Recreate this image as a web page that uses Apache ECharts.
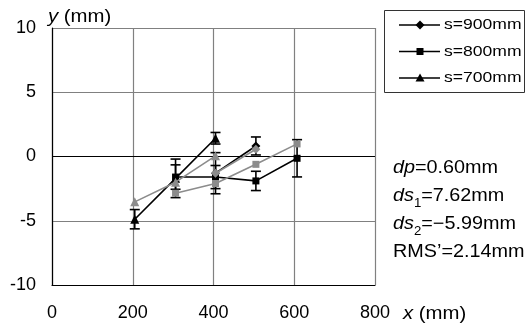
<!DOCTYPE html>
<html>
<head>
<meta charset="utf-8">
<script src="https://cdn.jsdelivr.net/npm/echarts@6/dist/echarts.min.js"></script>
<style>
  html, body { margin: 0; padding: 0; background: #fff; }
  #chart { width: 529px; height: 329px; }
</style>
</head>
<body>
<div id="chart"></div>
<script>
// Axis ticks
const xTicks = [0, 200, 400, 600, 800];
const yTicks = [-10, -5, 0, 5, 10];

// Legend entries (spacing s)
const legendNames = ['s=900mm', 's=800mm', 's=700mm'];

// Measured offsets (black, with error bars) per spacing s
const s900X = [405, 505];
const s900Y = [-1.3, 0.82];
const s900Err = [1.6, 0.7];

const s800X = [306, 405, 505, 607];
const s800Y = [-1.6, -1.6, -1.9, -0.14];
const s800Err = [0.95, 0.9, 0.75, 1.45];

const s700X = [205, 306, 405];
const s700Y = [-4.88, -1.7, 1.42];
const s700Err = [0.75, 1.5, 0.45];

// Computed offsets (grey)
const c900X = [405, 505];
const c900Y = [-1.3, 0.56];
const c800X = [306, 405, 505, 607];
const c800Y = [-2.86, -2.1, -0.61, 0.98];
const c700X = [205, 306, 405];
const c700Y = [-3.53, -2.0, 0.05];

const FONT = 'Liberation Sans, Arial, sans-serif';
const BLACK = '#000';
const GREY = '#8c8c8c';

const pairs = (xs, ys) => xs.map((x, i) => [x, ys[i]]);
const errRows = (xs, ys, es) => xs.map((x, i) => [x, ys[i] - es[i], ys[i] + es[i]]);

function errorSeries(rows) {
  return {
    type: 'custom',
    silent: true,
    z: 1,
    data: rows,
    renderItem: function (params, api) {
      const lo = api.coord([api.value(0), api.value(1)]);
      const hi = api.coord([api.value(0), api.value(2)]);
      const w = 5;
      const style = { stroke: BLACK, lineWidth: 1.6 };
      return {
        type: 'group',
        children: [
          { type: 'line', shape: { x1: lo[0], y1: lo[1], x2: hi[0], y2: hi[1] }, style },
          { type: 'line', shape: { x1: lo[0] - w, y1: lo[1], x2: lo[0] + w, y2: lo[1] }, style },
          { type: 'line', shape: { x1: hi[0] - w, y1: hi[1], x2: hi[0] + w, y2: hi[1] }, style }
        ]
      };
    }
  };
}

function lineSeries(name, data, color, symbol, size, z) {
  return {
    name: name,
    type: 'line',
    data: data,
    symbol: symbol,
    symbolSize: size,
    z: z,
    silent: true,
    animation: false,
    lineStyle: { color: color, width: 1.6 },
    itemStyle: { color: color, borderWidth: 0 }
  };
}

// Boxed legend: line + marker + label, labels slightly widened
function legendBox() {
  const left = 384.5, top = 10.5, w = 140, h = 82;
  const rows = [25, 51.5, 78];
  const children = [{
    type: 'rect', shape: { x: left, y: top, width: w, height: h },
    style: { fill: '#fff', stroke: '#333', lineWidth: 1 }
  }];
  const markers = [
    (cx, cy) => ({ type: 'polygon', shape: { points: [[cx, cy - 4.5], [cx + 4.5, cy], [cx, cy + 4.5], [cx - 4.5, cy]] }, style: { fill: BLACK } }),
    (cx, cy) => ({ type: 'rect', shape: { x: cx - 3.5, y: cy - 3.5, width: 7, height: 7 }, style: { fill: BLACK } }),
    (cx, cy) => ({ type: 'polygon', shape: { points: [[cx, cy - 4.5], [cx + 4.5, cy + 3.5], [cx - 4.5, cy + 3.5]] }, style: { fill: BLACK } })
  ];
  legendNames.forEach((name, i) => {
    const y = rows[i];
    children.push({ type: 'line', shape: { x1: 399, y1: y, x2: 440, y2: y }, style: { stroke: BLACK, lineWidth: 1.5 } });
    children.push(markers[i](420, y));
    children.push({
      type: 'text', x: 444, y: y, scaleX: 1.17,
      style: { text: name, font: '15px ' + FONT, fill: BLACK, verticalAlign: 'middle', textAlign: 'left' }
    });
  });
  return { type: 'group', z: 10, children: children };
}

const chart = echarts.init(document.getElementById('chart'));
chart.setOption({
  animation: false,
  grid: { left: 52, right: 154, top: 28, bottom: 44, show: false },
  xAxis: {
    type: 'value',
    min: xTicks[0], max: xTicks[xTicks.length - 1], interval: 200,
    axisLine: { onZero: false, lineStyle: { color: BLACK, width: 1.2 } },
    axisTick: { show: false },
    axisLabel: { color: BLACK, fontFamily: FONT, fontSize: 18, margin: 19 },
    splitLine: { show: true, lineStyle: { color: '#808080', width: 1.2 } }
  },
  yAxis: {
    type: 'value',
    min: yTicks[0], max: yTicks[yTicks.length - 1], interval: 5,
    axisLine: { show: true, lineStyle: { color: BLACK, width: 1.2 } },
    axisTick: { show: false },
    axisLabel: { color: BLACK, fontFamily: FONT, fontSize: 18, margin: 16 },
    splitLine: { show: true, lineStyle: { color: '#808080', width: 1.2 } }
  },
  series: [
    errorSeries(errRows(s900X, s900Y, s900Err)),
    errorSeries(errRows(s800X, s800Y, s800Err)),
    errorSeries(errRows(s700X, s700Y, s700Err)),
    Object.assign(lineSeries('zero', [[0, 0], [800, 0]], BLACK, 'none', 0, 2), {
      lineStyle: { color: BLACK, width: 1.2 }
    }),
    lineSeries(legendNames[0], pairs(s900X, s900Y), BLACK, 'diamond', 9, 3),
    lineSeries(legendNames[1], pairs(s800X, s800Y), BLACK, 'rect', 7, 3),
    lineSeries(legendNames[2], pairs(s700X, s700Y), BLACK, 'triangle', 9, 3),
    lineSeries('c900', pairs(c900X, c900Y), GREY, 'diamond', 9, 4),
    lineSeries('c800', pairs(c800X, c800Y), GREY, 'rect', 7, 4),
    lineSeries('c700', pairs(c700X, c700Y), GREY, 'triangle', 9, 4)
  ],
  graphic: [
    legendBox(),
    {
      type: 'text', x: 48, y: 17, scaleX: 1.13,
      style: {
        text: '{i|y} (mm)', verticalAlign: 'middle',
        font: '18px ' + FONT, fill: BLACK,
        rich: { i: { fontStyle: 'italic', fontSize: 18, fontFamily: FONT } }
      }
    },
    {
      type: 'text', x: 403, y: 314, scaleX: 1.13,
      style: {
        text: '{i|x} (mm)', verticalAlign: 'middle',
        font: '18px ' + FONT, fill: BLACK,
        rich: { i: { fontStyle: 'italic', fontSize: 18, fontFamily: FONT } }
      }
    },
    {
      type: 'text', x: 393, y: 154, scaleX: 1.1,
      style: {
        text: '{i|dp}=0.60mm\n{i|ds}{s|1}=7.62mm\n{i|ds}{s|2}=\u22125.99mm\nRMS\u2019=2.14mm',
        font: '18px ' + FONT, fill: BLACK, lineHeight: 28,
        rich: {
          i: { fontStyle: 'italic', fontSize: 18, fontFamily: FONT, lineHeight: 28 },
          s: { fontSize: 12, fontFamily: FONT, verticalAlign: 'bottom', padding: [9, 0, 0, 0], lineHeight: 28 }
        }
      }
    }
  ]
});
</script>
</body>
</html>
